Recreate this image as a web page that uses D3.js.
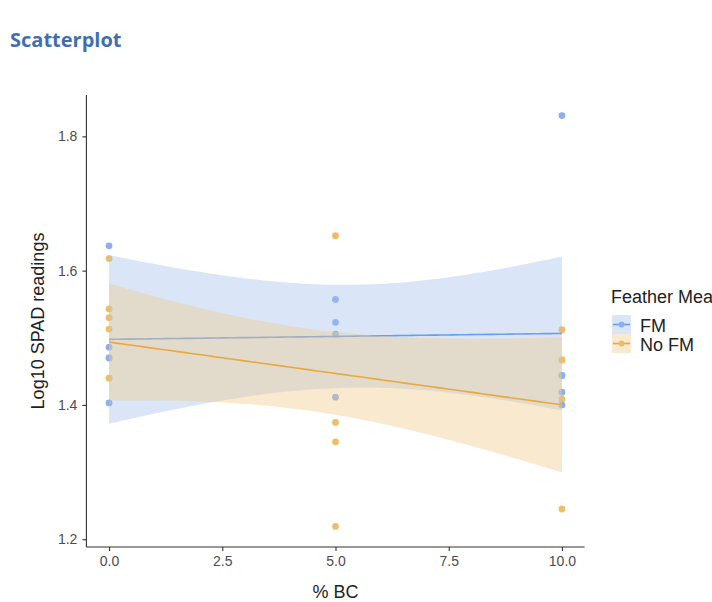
<!DOCTYPE html>
<html>
<head>
<meta charset="utf-8">
<script src="https://cdn.jsdelivr.net/npm/d3@7"></script>
<style>
  html, body { margin: 0; padding: 0; background: #fff; overflow: hidden; }
  svg { display: block; }
</style>
</head>
<body>
<svg id="chart" width="712" height="602"></svg>
<script>
// ---- data ----
const groups = ["FM", "No FM"];
const fmX = [0, 0, 0, 0, 5, 5, 5, 5, 10, 10, 10, 10, 10];
const fmY = [1.637, 1.486, 1.470, 1.403, 1.557, 1.523, 1.5055, 1.4115, 1.831, 1.444, 1.444, 1.419, 1.400];
const noFmX = [0, 0, 0, 0, 0, 0, 0, 5, 5, 5, 5, 10, 10, 10, 10, 10];
const noFmY = [1.618, 1.543, 1.530, 1.513, 1.470, 1.440, 1.440, 1.652, 1.374, 1.345, 1.219, 1.512, 1.467, 1.467, 1.4085, 1.245];
const xTicks = [0, 2.5, 5, 7.5, 10];
const yTicks = [1.2, 1.4, 1.6, 1.8];

const svg = d3.select("#chart");
const panel = { left: 86.4, right: 584.6, top: 95, bottom: 547 };

const colors = {
  "FM": { point: "#8cb0ee", line: "#6d9de9", fill: "#a2c0eb", fillOpacity: 0.4 },
  "No FM": { point: "#efbd66", line: "#e9a93c", fill: "#eec887", fillOpacity: 0.4 }
};

// t quantile (Cornish-Fisher)
function tq975(df) {
  const z = 1.959963985;
  const z3 = z*z*z, z5 = z3*z*z, z7 = z5*z*z;
  return z + (z3 + z)/(4*df) + (5*z5 + 16*z3 + 3*z)/(96*df*df) + (3*z7 + 19*z5 + 17*z3 - 15*z)/(384*df*df*df);
}

function lmFit(xs, ys) {
  const n = xs.length;
  const xm = d3.mean(xs), ym = d3.mean(ys);
  let sxx = 0, sxy = 0;
  for (let i = 0; i < n; i++) { sxx += (xs[i]-xm)**2; sxy += (xs[i]-xm)*(ys[i]-ym); }
  const b = sxy / sxx, a = ym - b*xm;
  let sse = 0;
  for (let i = 0; i < n; i++) sse += (ys[i] - a - b*xs[i])**2;
  const s = Math.sqrt(sse/(n-2));
  const t = tq975(n-2);
  const x0 = d3.min(xs), x1 = d3.max(xs);
  return d3.range(80).map(i => {
    const x = x0 + (x1-x0)*i/79;
    const f = a + b*x;
    const se = s*Math.sqrt(1/n + (x-xm)**2/sxx);
    return { x, f, lo: f - t*se, hi: f + t*se };
  });
}

const series = [
  { name: "FM", xs: fmX, ys: fmY },
  { name: "No FM", xs: noFmX, ys: noFmY }
];
series.forEach(s => s.fit = lmFit(s.xs, s.ys));

// y domain like ggplot (data + ribbons, 5% expansion)
const allY = [].concat(fmY, noFmY, ...series.map(s => s.fit.flatMap(p => [p.lo, p.hi])));
const yMin = d3.min(allY), yMax = d3.max(allY), yR = yMax - yMin;
const x = d3.scaleLinear().domain([-0.5, 10.5]).range([panel.left, panel.right]);
const y = d3.scaleLinear().domain([yMin - 0.05*yR, yMax + 0.05*yR]).range([panel.bottom, panel.top]);

// title
svg.append("text").attr("x", 10).attr("y", 47)
  .attr("font-family", "'Open Sans', sans-serif").attr("font-weight", "bold")
  .attr("font-size", 20).attr("fill", "#3f6fae").text("Scatterplot");

// points (No FM first, then FM)
const gPts = svg.append("g");
[series[1], series[0]].forEach(s => {
  gPts.selectAll(null).data(s.xs.map((d, i) => [d, s.ys[i]])).enter().append("circle")
    .attr("cx", d => x(d[0])).attr("cy", d => y(d[1])).attr("r", 3.4)
    .attr("fill", colors[s.name].point);
});

// smooths: ribbon then line, per group
const area = d3.area().x(d => x(d.x)).y0(d => y(d.lo)).y1(d => y(d.hi));
const line = d3.line().x(d => x(d.x)).y(d => y(d.f));
series.forEach(s => {
  svg.append("path").datum(s.fit).attr("d", area)
    .attr("fill", colors[s.name].fill).attr("fill-opacity", colors[s.name].fillOpacity);
  svg.append("path").datum(s.fit).attr("d", line)
    .attr("fill", "none").attr("stroke", colors[s.name].line).attr("stroke-width", 1.6);
});

// axes
const axisColor = "#333";
const font = "'Liberation Sans', Arial, sans-serif";
const xAxis = svg.append("g").attr("transform", `translate(0,${panel.bottom})`)
  .call(d3.axisBottom(x).tickValues(xTicks).tickFormat(d3.format(".1f")).tickSize(4).tickPadding(5));
const yAxis = svg.append("g").attr("transform", `translate(${panel.left},0)`)
  .call(d3.axisLeft(y).tickValues(yTicks).tickFormat(d3.format(".1f")).tickSize(4).tickPadding(5));
[xAxis, yAxis].forEach(g => {
  g.select(".domain").remove();
  g.selectAll(".tick line").attr("stroke", axisColor).attr("stroke-width", 1.1);
  g.selectAll(".tick text").attr("fill", "#4d4d4d")
    .attr("font-family", font).attr("font-size", 14);
});
svg.append("line").attr("x1", panel.left).attr("x2", panel.left).attr("y1", panel.top).attr("y2", panel.bottom)
  .attr("stroke", axisColor).attr("stroke-width", 1.1);
svg.append("line").attr("x1", panel.left).attr("x2", panel.right).attr("y1", panel.bottom).attr("y2", panel.bottom)
  .attr("stroke", axisColor).attr("stroke-width", 1.1);

// axis titles
svg.append("text").attr("x", (panel.left + panel.right)/2).attr("y", 598)
  .attr("text-anchor", "middle").attr("font-family", font).attr("font-size", 18).attr("fill", "#222")
  .text("% BC");
svg.append("text").attr("transform", `translate(44,${(panel.top + panel.bottom)/2}) rotate(-90)`)
  .attr("text-anchor", "middle").attr("font-family", font).attr("font-size", 18).attr("fill", "#222")
  .text("Log10 SPAD readings");

// legend
const leg = svg.append("g");
leg.append("text").attr("x", 611).attr("y", 303).attr("font-family", font).attr("font-size", 18)
  .attr("fill", "#222").text("Feather Meal");
groups.forEach((g, i) => {
  const ky = 315 + i*19;
  leg.append("rect").attr("x", 612).attr("y", ky).attr("width", 19).attr("height", 19)
    .attr("fill", colors[g].fill).attr("fill-opacity", colors[g].fillOpacity);
  leg.append("line").attr("x1", 613).attr("x2", 630).attr("y1", ky + 9.5).attr("y2", ky + 9.5)
    .attr("stroke", colors[g].line).attr("stroke-width", 1.6);
  leg.append("circle").attr("cx", 621.5).attr("cy", ky + 9.5).attr("r", 3).attr("fill", colors[g].point);
  leg.append("text").attr("x", 640).attr("y", ky + 17).attr("font-family", font).attr("font-size", 18)
    .attr("fill", "#222").text(g);
});
</script>
</body>
</html>
